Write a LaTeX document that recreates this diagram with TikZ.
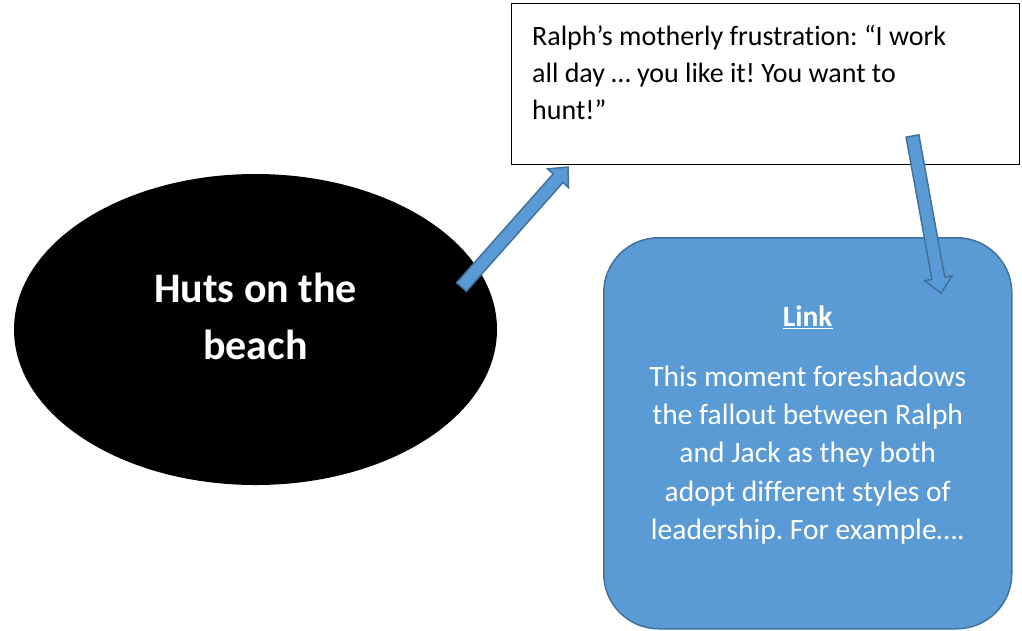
\documentclass[tikz,border=0pt]{standalone}
\usepackage{fontspec}
\setmainfont{Carlito}[Ligatures=NoCommon]
\usetikzlibrary{calc,shapes.geometric}
\definecolor{linkblue}{HTML}{5B9BD5}
\definecolor{linkedge}{HTML}{41719C}
\frenchspacing

\tikzset{
    huts/.style={ellipse, fill=black, minimum width=483pt, minimum height=311pt, inner sep=0pt},
    hutstext/.style={text=white, align=center, inner sep=0pt, font=\fontsize{42}{57}\selectfont\bfseries},
    quote/.style={draw=black, line width=1.3pt, minimum width=508pt, minimum height=161pt, inner sep=0pt},
    quotetext/.style={align=left, inner sep=0pt, font=\fontsize{28}{37}\selectfont},
    link/.style={draw=linkedge, fill=linkblue, line width=1.5pt, rounded corners=55pt,
        minimum width=408pt, minimum height=391pt, inner sep=0pt},
    linktext/.style={text=white, align=center, inner sep=0pt, font=\fontsize{29.5}{38.3}\selectfont},
    barrow/.style={fill=linkblue, draw=linkedge, line width=1.5pt, line join=miter}
}

% block arrow from #1 (tail) to #2 (tip)
\newcommand{\blockarrow}[2]{%
    \coordinate (bh) at ($(#2)!15pt!(#1)$);
    \filldraw[barrow]
        ($(#1)!6.5pt!90:(#2)$) -- ($(bh)!6.5pt!90:(#2)$)
        -- ($(bh)!14pt!90:(#2)$) -- (#2)
        -- ($(bh)!14pt!-90:(#2)$) -- ($(bh)!6.5pt!-90:(#2)$)
        -- ($(#1)!6.5pt!-90:(#2)$) -- cycle;
}

\begin{document}
\begin{tikzpicture}[x=1pt,y=-1pt]
    \useasboundingbox (0,0) rectangle (1022,630);
    % Ellipse
    \node[huts] (huts) at (255.5,329.5) {};
    \node[hutstext] (hutslabel) at ([yshift=12.7pt]huts.center) {Huts on the\\beach};
    % Quote box
    \node[quote, anchor=north west] (quote) at (511,3) {};
    \node[quotetext, anchor=north west] (quotelabel) at ([xshift=21pt,yshift=-22pt]quote.north west)
        {Ralph’s motherly frustration: “I work\\all day … you like it! You want to\\hunt!”};
    % Link box
    \node[link, anchor=north west] (link) at (603,237) {};
    \node[linktext, anchor=north] (linklabel) at ([yshift=-69pt]link.north)
        {\textbf{\underline{Link}}\\[21pt]
         This moment foreshadows\\the fallout between Ralph\\and Jack as they both\\
         adopt different styles of\\leadership. For example….};
    % Arrows
    \coordinate (a1) at (461.5,287);
    \coordinate (b1) at (568,167);
    \coordinate (a2) at (912.5,136);
    \coordinate (b2) at (941,293);
    \blockarrow{a1}{b1}
    \blockarrow{a2}{b2}
\end{tikzpicture}
\end{document}
